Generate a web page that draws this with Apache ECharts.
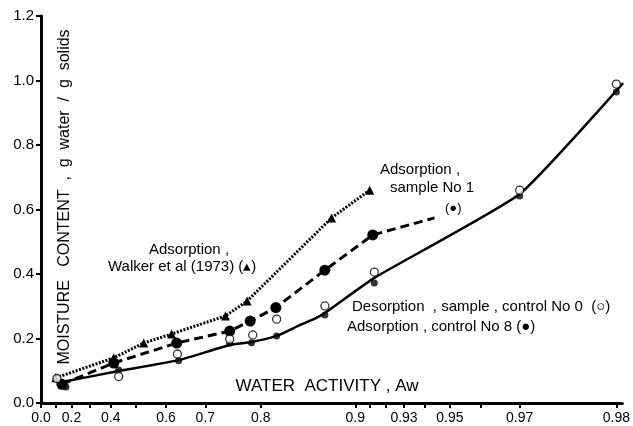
<!DOCTYPE html>
<html><head><meta charset="utf-8">
<script src="https://cdn.jsdelivr.net/npm/echarts@6/dist/echarts.min.js"></script>
<style>html,body{margin:0;padding:0;background:#fff}#c{width:633px;height:426px}</style>
</head><body><div id="c"></div>
<script>
// x-axis ticks / labels (water activity, aw)
const tickAw = [0,0.1,0.2,0.3,0.4,0.5,0.6,0.7,0.8,0.9,0.91,0.92,0.93,0.94,0.95,0.96,0.97,0.98];
const labelAw = [0,0.2,0.4,0.6,0.7,0.8,0.9,0.93,0.95,0.97,0.98];
const labelText = ['0.0','0.2','0.4','0.6','0.7','0.8','0.9','0.93','0.95','0.97','0.98'];

// Adsorption, Walker et al (1973) (triangles, dotted)
const walkerAw = [0.103, 0.413, 0.529, 0.616, 0.741, 0.779, 0.881, 0.910];
const walkerMc = [0.078, 0.140, 0.186, 0.214, 0.270, 0.316, 0.574, 0.660];

// Adsorption, sample No 1 (large filled circles, dashed)
const s1Aw = [0.142, 0.413, 0.630, 0.749, 0.784, 0.821, 0.875, 0.912, 0.944];
const s1Mc = [0.058, 0.124, 0.186, 0.223, 0.254, 0.296, 0.412, 0.521, 0.574];
const s1Marked = [1,1,1,1,1,1,1,1,0];

// Adsorption, control No 8 (small filled circles)
const c8Aw = [0.167, 0.434, 0.635, 0.749, 0.786, 0.822, 0.875, 0.913, 0.970, 0.980];
const c8Mc = [0.050, 0.102, 0.131, 0.185, 0.187, 0.208, 0.273, 0.372, 0.642, 0.964];

// Desorption, sample, control No 0 (open circles)
const c0Aw = [0.110, 0.434, 0.632, 0.749, 0.788, 0.822, 0.875, 0.913, 0.970, 0.980];
const c0Mc = [0.076, 0.082, 0.152, 0.198, 0.211, 0.260, 0.301, 0.406, 0.660, 0.989];

// solid curve drawn through the control points
const curveAw = [0.110, 0.434, 0.635, 0.749, 0.786, 0.822, 0.848, 0.867, 0.875, 0.913, 0.970, 0.9807];
const curveMc = [0.062, 0.099, 0.133, 0.180, 0.189, 0.208, 0.239, 0.264, 0.279, 0.388, 0.648, 0.992];

// axis scale: -ln(1-aw), last labelled tick placed as in the original
const U97 = -Math.log(1 - 0.97);
const U98 = 4.215;
function toU(aw) { return aw <= 0.97 ? -Math.log(1 - aw) : U97 + (aw - 0.97) / 0.01 * (U98 - U97); }
const UMAX = 4.259;

function pairs(xs, ys) { return xs.map((x, i) => [toU(x), ys[i]]); }
const FONT = '"Liberation Sans", Arial, Helvetica, sans-serif';

const chart = echarts.init(document.getElementById('c'), null, {renderer: 'canvas'});
chart.setOption({
  animation: false,
  backgroundColor: '#fff',
  grid: {left: 41, right: 9, top: 16, bottom: 23},
  xAxis: {
    type: 'value', min: 0, max: UMAX,
    axisLine: {show: true, lineStyle: {color: '#000', width: 3}},
    axisTick: {show: true, customValues: tickAw.map(toU), length: 5, lineStyle: {color: '#000', width: 2}},
    axisLabel: {
      customValues: labelAw.map(toU), margin: 8, color: '#000', fontSize: 14, fontFamily: FONT,
      formatter: function (v) {
        for (let i = 0; i < labelAw.length; i++) if (Math.abs(toU(labelAw[i]) - v) < 1e-6) return labelText[i];
        return '';
      }
    },
    splitLine: {show: false}
  },
  yAxis: {
    type: 'value', min: 0, max: 1.2, interval: 0.2,
    axisLine: {show: true, lineStyle: {color: '#000', width: 3}},
    axisTick: {show: true, length: 5, lineStyle: {color: '#000', width: 2}},
    axisLabel: {margin: 7, color: '#000', fontSize: 15, fontFamily: FONT, formatter: v => v.toFixed(1)},
    splitLine: {show: false}
  },
  series: [
    {type: 'line', data: pairs(curveAw, curveMc), symbol: 'none', smooth: 0.15, lineStyle: {color: '#000', width: 2.5}, z: 2},
    {type: 'line', data: pairs(walkerAw, walkerMc), symbol: 'triangle', symbolSize: 9,
     itemStyle: {color: '#000'}, lineStyle: {color: '#000', width: 3, type: [2, 1.5]}, z: 3},
    {type: 'line', data: pairs(s1Aw, s1Mc).map((p, i) => ({value: p, symbol: s1Marked[i] ? 'circle' : 'none'})),
     symbol: 'circle', symbolSize: 11, itemStyle: {color: '#000'},
     lineStyle: {color: '#000', width: 3, type: [9, 5]}, z: 3},
    {type: 'scatter', data: pairs(c8Aw, c8Mc), symbol: 'circle', symbolSize: 7, itemStyle: {color: '#000'}, z: 4},
    {type: 'scatter', data: pairs(c0Aw, c0Mc), symbol: 'circle', symbolSize: 8,
     itemStyle: {color: '#fff', borderColor: '#000', borderWidth: 1.3}, z: 5}
  ],
  graphic: [
    {type: 'text', x: 65, y: 197, rotation: Math.PI / 2,
     style: {text: 'MOISTURE   CONTENT  ,  g  water  /  g  solids', fontSize: 16, fontFamily: FONT, fill: '#000', align: 'center', verticalAlign: 'middle'}},
    {type: 'text', x: 327, y: 386,
     style: {text: 'WATER  ACTIVITY , Aw', fontSize: 17, fontFamily: FONT, fill: '#000', align: 'center', verticalAlign: 'middle'}},
    {type: 'text', x: 149, y: 250,
     style: {text: 'Adsorption ,', fontSize: 15, fontFamily: FONT, fill: '#000', align: 'left', verticalAlign: 'middle'}},
    {type: 'text', x: 108, y: 267,
     style: {text: 'Walker et al (1973) (▴)', fontSize: 15, fontFamily: FONT, fill: '#000', align: 'left', verticalAlign: 'middle'}},
    {type: 'text', x: 380, y: 170,
     style: {text: 'Adsorption ,', fontSize: 15, fontFamily: FONT, fill: '#000', align: 'left', verticalAlign: 'middle'}},
    {type: 'text', x: 390, y: 188,
     style: {text: 'sample No 1', fontSize: 15, fontFamily: FONT, fill: '#000', align: 'left', verticalAlign: 'middle'}},
    {type: 'text', x: 445, y: 208,
     style: {text: '(●)', fontSize: 13, fontFamily: FONT, fill: '#000', align: 'left', verticalAlign: 'middle'}},
    {type: 'text', x: 352, y: 307,
     style: {text: 'Desorption  , sample , control No 0  (○)', fontSize: 15, fontFamily: FONT, fill: '#000', align: 'left', verticalAlign: 'middle'}},
    {type: 'text', x: 347, y: 327,
     style: {text: 'Adsorption , control No 8 (●)', fontSize: 15, fontFamily: FONT, fill: '#000', align: 'left', verticalAlign: 'middle'}}
  ]
});
</script>
</body></html>
